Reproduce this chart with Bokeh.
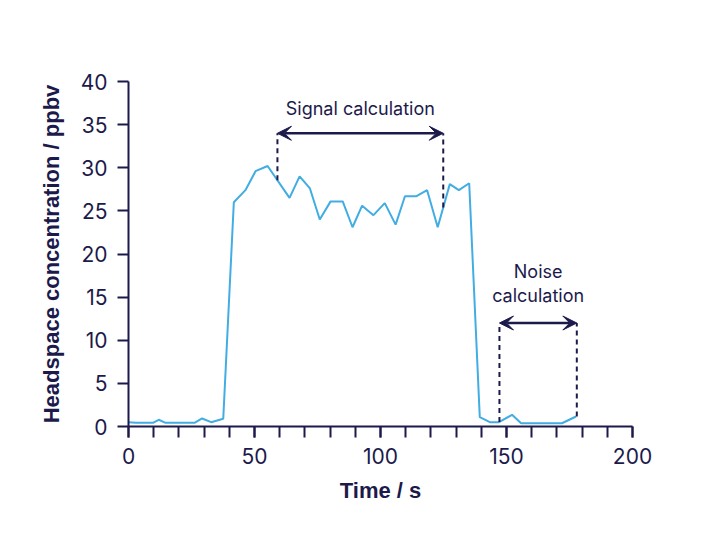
import numpy as np
from bokeh.plotting import figure
from bokeh.models import Range1d, FixedTicker, Arrow, VeeHead, Label
from bokeh.embed import file_html
from bokeh.resources import INLINE

# ---- data ----
time_s = [0, 3, 6, 9.7, 12, 14.7, 18, 22, 26.2, 29.2, 32.8, 37.6,
          41.8, 46.4, 50.4, 55.2, 63.9, 67.9, 72, 75.9, 80.2, 85, 88.9,
          92.7, 97.2, 101.7, 106, 109.7, 114.3, 118.5, 122.7, 127.5, 131.1,
          135.2, 139.4, 143.4, 147, 152.2, 155.8, 160, 164, 168, 172, 177.6]
conc_ppbv = [0.5, 0.43, 0.43, 0.43, 0.78, 0.43, 0.43, 0.43, 0.43, 0.93, 0.5, 0.89,
             26.0, 27.4, 29.6, 30.2, 26.5, 29.0, 27.6, 24.0, 26.1, 26.1, 23.1,
             25.6, 24.5, 25.9, 23.4, 26.7, 26.7, 27.4, 23.1, 28.1, 27.4,
             28.2, 1.08, 0.5, 0.5, 1.35, 0.38, 0.38, 0.38, 0.38, 0.38, 1.16]
x_major_ticks = [0, 50, 100, 150, 200]
x_minor_ticks = list(range(0, 201, 10))
y_ticks = list(range(0, 41, 5))

signal_window = (59.1, 124.9)
signal_level = 34.0
noise_window = (147.2, 177.9)
noise_level = 12.0

NAVY = "#1c1a4b"
BLUE = "#41ade2"

p = figure(width=688, height=528, output_backend="svg", toolbar_location=None,
           x_range=Range1d(0, 200), y_range=Range1d(0, 40),
           min_border_left=128, min_border_right=56, min_border_top=81, min_border_bottom=102)
p.outline_line_color = None
p.grid.grid_line_color = None
p.background_fill_color = "white"
p.border_fill_color = "white"

p.line(time_s, conc_ppbv, line_color=BLUE, line_width=2)

p.xaxis.ticker = FixedTicker(ticks=x_major_ticks, minor_ticks=x_minor_ticks)
p.yaxis.ticker = FixedTicker(ticks=y_ticks, minor_ticks=[])
for ax in (p.xaxis, p.yaxis):
    ax.axis_line_color = NAVY
    ax.axis_line_width = 2
    ax.major_tick_line_color = NAVY
    ax.major_tick_line_width = 2
    ax.minor_tick_line_color = NAVY
    ax.minor_tick_line_width = 2
    ax.major_tick_out = 11
    ax.major_tick_in = 0
    ax.minor_tick_out = 11
    ax.minor_tick_in = 0
    ax.major_label_text_font = "Inter"
    ax.major_label_text_font_size = "21px"
    ax.major_label_text_color = NAVY
    ax.axis_label_text_font = "Liberation Sans"
    ax.axis_label_text_font_style = "bold"
    ax.axis_label_text_font_size = "22px"
    ax.axis_label_text_color = NAVY
p.xaxis.axis_label = "Time / s"
p.yaxis.axis_label = "Headspace concentration / ppbv"
p.xaxis.major_label_standoff = 10
p.yaxis.major_label_standoff = 10
p.xaxis.axis_label_standoff = 11
p.yaxis.axis_label_standoff = 14

def bracket(x0, x1, level):
    for xv in (x0, x1):
        base = float(np.interp(xv, time_s, conc_ppbv))
        p.line([xv, xv], [base, level], line_color=NAVY, line_width=2, line_dash="5 4")
    p.add_layout(Arrow(x_start=x0, y_start=level, x_end=x1, y_end=level,
                       line_color=NAVY, line_width=2.5,
                       start=VeeHead(size=14, fill_color=NAVY, line_color=NAVY),
                       end=VeeHead(size=14, fill_color=NAVY, line_color=NAVY)))

bracket(*signal_window, signal_level)
bracket(*noise_window, noise_level)

def label(x, y, txt):
    p.add_layout(Label(x=x, y=y, text=txt, text_font="Inter", text_font_size="18px",
                       text_color=NAVY, text_align="center", text_baseline="middle"))

label(sum(signal_window) / 2, 36.9, "Signal calculation")
label(sum(noise_window) / 2, 18.0, "Noise")
label(sum(noise_window) / 2, 15.2, "calculation")

open("out.html", "w").write(file_html(p, INLINE))
